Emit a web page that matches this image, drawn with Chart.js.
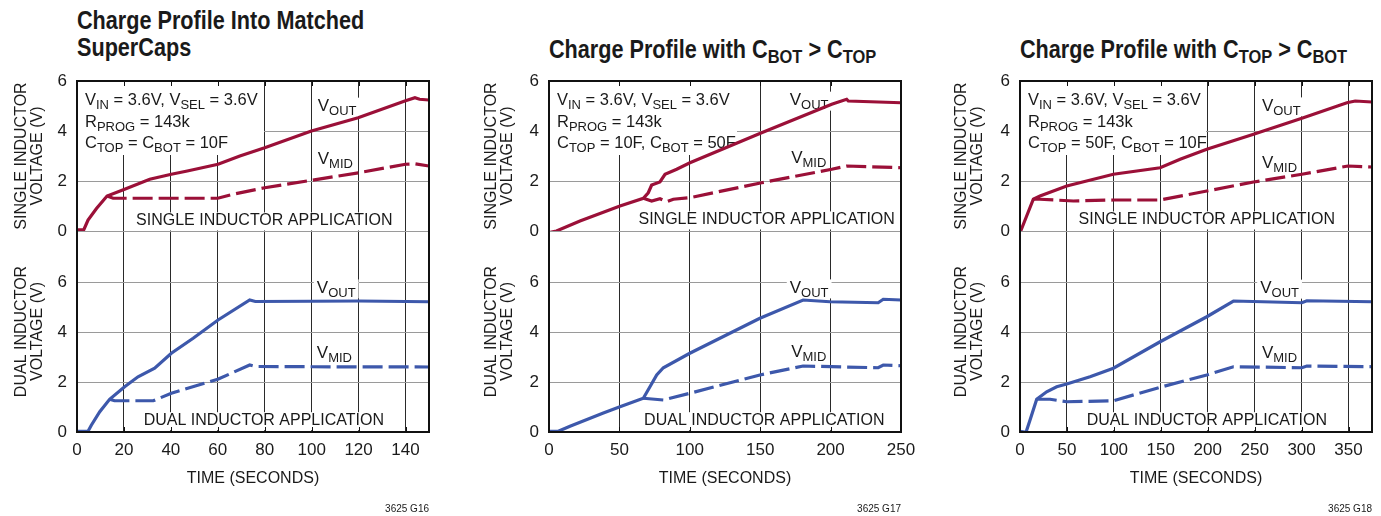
<!DOCTYPE html>
<html>
<head>
<meta charset="utf-8">
<script src="https://cdn.jsdelivr.net/npm/chart.js@4"></script>
<style>
  body { margin: 0; background: #fff; width: 1381px; height: 516px; position: relative; overflow: hidden;
         font-family: "Liberation Sans Narrow", "Arial Narrow", "Liberation Sans", sans-serif; color: #1a1a1a; }
  .title { position: absolute; font-weight: bold; font-size: 25px; line-height: 27px; white-space: nowrap;
           transform: scaleX(0.865); transform-origin: 0 0; }
  .title sub { font-size: 19px; vertical-align: -5px; line-height: 0; }
  canvas { position: absolute; top: 0; }
</style>
</head>
<body>
<div class="title" style="left:77px;top:7px">Charge Profile Into Matched<br>SuperCaps</div>
<div class="title" style="left:549px;top:36px">Charge Profile with C<sub>BOT</sub> &gt; C<sub>TOP</sub></div>
<div class="title" style="left:1020px;top:36px">Charge Profile with C<sub>TOP</sub> &gt; C<sub>BOT</sub></div>
<canvas id="g16" width="460" height="516" style="left:0px"></canvas>
<canvas id="g17" width="460" height="516" style="left:470px"></canvas>
<canvas id="g18" width="441" height="516" style="left:940px"></canvas>
<script>
// tick labels
var xTicks1 = [0, 20, 40, 60, 80, 100, 120, 140];
var xTicks2 = [0, 50, 100, 150, 200, 250];
var xTicks3 = [0, 50, 100, 150, 200, 250, 300, 350];
var yTicks = [0, 2, 4, 6];

// [time (s), volts]
var p1SingleOut = [[0,0.05],[2.9,0.05],[4.7,0.44],[8.3,0.9],[12.8,1.4],[20.3,1.67],[31,2.07],[40.2,2.27],[47,2.4],[60.1,2.67],[69.4,3.0],[80,3.33],[99.9,4.0],[119.8,4.53],[139.7,5.2],[144,5.33],[146,5.27],[150,5.24]];
var p1SingleMid = [[12.8,1.4],[15.4,1.31],[60,1.31],[66.5,1.47],[80,1.73],[100,2.03],[120,2.33],[140,2.67],[144,2.69],[150,2.6]];
var p1DualOut = [[0,0.03],[4.7,0.03],[6.1,0.27],[9.7,0.81],[13.9,1.31],[20.3,1.81],[26,2.21],[33.1,2.55],[40.2,3.15],[49.5,3.75],[60.1,4.48],[73.6,5.28],[76,5.22],[100,5.23],[120,5.24],[140,5.22],[150,5.21]];
var p1DualMid = [[13.9,1.31],[16,1.25],[32.5,1.25],[40.2,1.55],[60,2.11],[73.6,2.68],[76,2.62],[100,2.61],[150,2.6]];

var p2SingleOut = [[1,-0.05],[5.3,0],[22,0.4],[50.4,1.0],[67,1.31],[70.5,1.53],[72.9,1.84],[78.8,1.96],[82.4,2.27],[90.7,2.47],[100.1,2.73],[151,3.93],[200.8,5.07],[211.4,5.27],[212.6,5.2],[250,5.13]];
var p2SingleMid = [[67,1.31],[72.9,1.2],[78.8,1.29],[83.6,1.17],[88.3,1.27],[100,1.33],[151,1.93],[200.8,2.47],[211.4,2.6],[250,2.53]];
var p2DualOut = [[0,0.03],[6.6,0.03],[14.9,0.23],[38.6,0.76],[50.4,1.01],[67,1.35],[71.7,1.81],[76.5,2.28],[81.2,2.57],[100,3.15],[149.8,4.55],[180.5,5.28],[199.5,5.21],[233.8,5.17],[237.4,5.31],[250,5.28]];
var p2DualMid = [[67,1.35],[81.2,1.28],[100,1.55],[149.8,2.28],[180.5,2.64],[233.8,2.57],[237.4,2.68],[250,2.65]];

var p3SingleOut = [[0,-0.07],[7.1,0.6],[14.2,1.27],[21.3,1.4],[49.8,1.8],[99.5,2.27],[149.3,2.53],[170.6,2.87],[199,3.27],[248.8,3.87],[300.3,4.51],[348.3,5.13],[357.1,5.2],[375,5.16]];
var p3SingleMid = [[14.2,1.27],[21.3,1.27],[56.9,1.2],[99.5,1.24],[149.3,1.24],[199,1.6],[248.8,1.96],[300.3,2.27],[349.4,2.6],[375,2.56]];
var p3DualOut = [[0,0.03],[6.4,-0.01],[10.7,0.48],[17.8,1.31],[28.4,1.61],[39.1,1.81],[49.8,1.92],[74.6,2.21],[99.5,2.55],[149.3,3.61],[199,4.61],[227.4,5.24],[300.3,5.17],[305.6,5.25],[375,5.21]];
var p3DualMid = [[17.8,1.31],[32,1.31],[49.8,1.21],[99.5,1.25],[149.3,1.79],[199,2.28],[227.4,2.61],[300.3,2.57],[305.6,2.64],[375,2.61]];

var FONT = '"Liberation Sans Narrow", "Arial Narrow", "Liberation Sans", sans-serif';
var RED = '#9b1038';
var BLUE = '#3d58ab';
var INK = '#1a1a1a';

// text with {subscripts}
function rich(ctx, s, x, y, size, align, bg) {
    var parts = s.split(/(\{[^}]*\})/).filter(function(p){ return p.length; });
    var sub = Math.round(size * 0.78);
    var w = 0;
    parts.forEach(function(p) {
        var isSub = p[0] == '{';
        ctx.font = (isSub ? sub : size) + 'px ' + FONT;
        w += ctx.measureText(isSub ? p.slice(1, -1) : p).width;
    });
    if (align == 'center') x -= w / 2;
    if (bg) {
        ctx.fillStyle = '#fff';
        ctx.fillRect(x - 3, y - size * 0.8, w + 6, size + 2);
    }
    ctx.fillStyle = INK;
    ctx.textAlign = 'left';
    ctx.textBaseline = 'alphabetic';
    parts.forEach(function(p) {
        var isSub = p[0] == '{';
        var t = isSub ? p.slice(1, -1) : p;
        ctx.font = (isSub ? sub : size) + 'px ' + FONT;
        ctx.fillText(t, x, isSub ? y + 4 : y);
        x += ctx.measureText(t).width;
    });
}

var decor = {
    id: 'decor',
    beforeDatasetsDraw: function(chart, args, o) {
        var ctx = chart.ctx, a = chart.chartArea;
        ctx.save();
        ctx.fillStyle = '#fff';
        ctx.fillRect(a.left, a.top, o.boxW, 74);
        o.box.forEach(function(s, i) { rich(ctx, s, a.left + 8, a.top + 24 + i * 21.5, 16.5, 'left', false); });
        o.labels.forEach(function(l) {
            var x = chart.scales.x.getPixelForValue(l.t);
            var y = chart.scales[l.axis].getPixelForValue(l.v);
            rich(ctx, l.text, x, y, l.size || 17, l.align || 'left', true);
        });
        ctx.restore();
    },
    afterDatasetsDraw: function(chart, args, o) {
        var ctx = chart.ctx, a = chart.chartArea, xs = chart.scales.x;
        ctx.save();
        ctx.strokeStyle = '#111';
        ctx.lineWidth = 1;
        xs.ticks.forEach(function(t) {
            var x = Math.round(xs.getPixelForValue(t.value)) + 0.5;
            ctx.beginPath();
            ctx.moveTo(x, a.top); ctx.lineTo(x, a.top + 5);
            ctx.moveTo(x, a.bottom); ctx.lineTo(x, a.bottom - 5);
            ctx.stroke();
        });
        ctx.lineWidth = 2;
        ctx.strokeRect(a.left, a.top, a.right - a.left, a.bottom - a.top);
        ctx.fillStyle = INK;
        ctx.font = '10px ' + FONT;
        ctx.textAlign = 'right';
        ctx.fillText(o.code, a.right, 512);
        ctx.restore();
    }
};

function line(pts, axis, color, dashed) {
    return {
        data: pts.map(function(p){ return {x: p[0], y: p[1]}; }),
        yAxisID: axis,
        borderColor: color,
        borderWidth: 3.2,
        borderDash: dashed ? [20, 6] : [],
        pointRadius: 0,
        tension: 0,
        fill: false
    };
}

function yScale(title, max, weight, w) {
    return {
        type: 'linear', position: 'left', stack: 'v', stackWeight: weight,
        min: 0, max: max,
        afterBuildTicks: function(s) { s.ticks = yTicks.map(function(v){ return {value: v}; }); },
        afterFit: function(s) { s.width = w; },
        grid: { color: '#9a9a9a', lineWidth: 1, drawTicks: false },
        border: { display: false },
        ticks: { color: INK, font: { family: FONT, size: 17 }, padding: 10 },
        title: { display: true, text: title, color: INK, font: { family: FONT, size: 16, lineHeight: 1 }, padding: { top: 14, bottom: 0 } }
    };
}

function panel(id, o) {
    var canvas = document.getElementById(id);
    return new Chart(canvas, {
        type: 'line',
        data: { datasets: [
            line(o.singleOut, 'yTop', RED, false),
            line(o.singleMid, 'yTop', RED, true),
            line(o.dualOut, 'yBot', BLUE, false),
            line(o.dualMid, 'yBot', BLUE, true)
        ]},
        options: {
            responsive: false,
            animation: false,
            layout: { padding: { left: 0, top: 81, right: canvas.width - o.right, bottom: 24 } },
            plugins: {
                legend: { display: false },
                tooltip: { enabled: false },
                decor: { box: o.box, boxW: o.boxW, labels: o.labels, code: o.code }
            },
            scales: {
                x: {
                    type: 'linear', min: 0, max: o.xMax,
                    afterBuildTicks: function(s) { s.ticks = o.xTicks.map(function(v){ return {value: v}; }); },
                    afterFit: function(s) { s.height = 60; },
                    grid: { color: '#2a2a2a', lineWidth: 1, drawTicks: false },
                    border: { display: false },
                    ticks: { color: INK, font: { family: FONT, size: 17 }, padding: 8, maxRotation: 0, autoSkip: false },
                    title: { display: true, text: 'TIME (SECONDS)', color: INK, font: { family: FONT, size: 16 }, padding: { top: 10 } }
                },
                // bottom plot listed first so the layout stacks it under the top one
                yBot: yScale(['DUAL INDUCTOR', 'VOLTAGE (V)'], 8.04, 8.04, o.yw),
                yTop: yScale(['SINGLE INDUCTOR', 'VOLTAGE (V)'], 6, 6, o.yw)
            }
        },
        plugins: [decor]
    });
}

panel('g16', {
    singleOut: p1SingleOut, singleMid: p1SingleMid, dualOut: p1DualOut, dualMid: p1DualMid,
    xTicks: xTicks1, xMax: 150, yw: 77, right: 429, boxW: 187, code: '3625 G16',
    box: ['V{IN} = 3.6V, V{SEL} = 3.6V', 'R{PROG} = 143k', 'C{TOP} = C{BOT} = 10F'],
    labels: [
        { text: 'V{OUT}', axis: 'yTop', t: 102.6, v: 4.79 },
        { text: 'V{MID}', axis: 'yTop', t: 102.6, v: 2.67 },
        { text: 'SINGLE INDUCTOR APPLICATION', axis: 'yTop', t: 79.8, v: 0.23, align: 'center', size: 16 },
        { text: 'V{OUT}', axis: 'yBot', t: 102.2, v: 5.56 },
        { text: 'V{MID}', axis: 'yBot', t: 102.2, v: 2.95 },
        { text: 'DUAL INDUCTOR APPLICATION', axis: 'yBot', t: 79.6, v: 0.28, align: 'center', size: 16 }
    ]
});

panel('g17', {
    singleOut: p2SingleOut, singleMid: p2SingleMid, dualOut: p2DualOut, dualMid: p2DualMid,
    xTicks: xTicks2, xMax: 250, yw: 79, right: 431, boxW: 188, code: '3625 G17',
    box: ['V{IN} = 3.6V, V{SEL} = 3.6V', 'R{PROG} = 143k', 'C{TOP} = 10F, C{BOT} = 50F'],
    labels: [
        { text: 'V{OUT}', axis: 'yTop', t: 171, v: 5.03 },
        { text: 'V{MID}', axis: 'yTop', t: 172, v: 2.74 },
        { text: 'SINGLE INDUCTOR APPLICATION', axis: 'yTop', t: 154.6, v: 0.27, align: 'center', size: 16 },
        { text: 'V{OUT}', axis: 'yBot', t: 171, v: 5.56 },
        { text: 'V{MID}', axis: 'yBot', t: 172, v: 2.99 },
        { text: 'DUAL INDUCTOR APPLICATION', axis: 'yBot', t: 152.9, v: 0.28, align: 'center', size: 16 }
    ]
});

panel('g18', {
    singleOut: p3SingleOut, singleMid: p3SingleMid, dualOut: p3DualOut, dualMid: p3DualMid,
    xTicks: xTicks3, xMax: 375, yw: 80, right: 432, boxW: 186, code: '3625 G18',
    box: ['V{IN} = 3.6V, V{SEL} = 3.6V', 'R{PROG} = 143k', 'C{TOP} = 50F, C{BOT} = 10F'],
    labels: [
        { text: 'V{OUT}', axis: 'yTop', t: 257.7, v: 4.8 },
        { text: 'V{MID}', axis: 'yTop', t: 257.7, v: 2.54 },
        { text: 'SINGLE INDUCTOR APPLICATION', axis: 'yTop', t: 199, v: 0.27, align: 'center', size: 16 },
        { text: 'V{OUT}', axis: 'yBot', t: 255.9, v: 5.55 },
        { text: 'V{MID}', axis: 'yBot', t: 257.7, v: 2.95 },
        { text: 'DUAL INDUCTOR APPLICATION', axis: 'yBot', t: 199, v: 0.28, align: 'center', size: 16 }
    ]
});
</script>
</body>
</html>
